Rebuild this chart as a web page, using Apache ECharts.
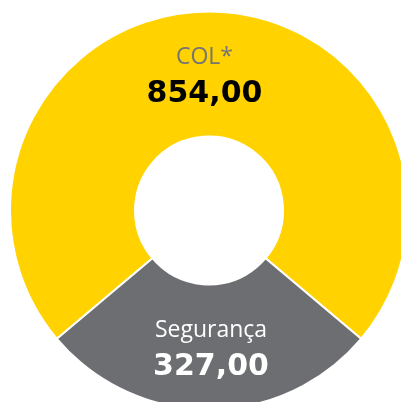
<!DOCTYPE html>
<html>
<head>
<meta charset="utf-8">
<script src="https://cdn.jsdelivr.net/npm/echarts@6/dist/echarts.min.js"></script>
<style>html,body{margin:0;padding:0;background:#fff}#c{width:401px;height:402px}</style>
</head>
<body>
<div id="c"></div>
<script>
var categories = ['COL*', 'Segurança'];
var values = [854, 327];
var valueLabels = ['854,00', '327,00'];
var colors = ['#FFD200', '#6D6E71'];

var chart = echarts.init(document.getElementById('c'), null, {renderer: 'canvas'});
var total = values[0] + values[1];
var startAngle = 90 + (values[0] / total) * 180;

var labelStyles = [
  {name: '#747474', value: '#000000', padding: [13, 9, 0, 0]},
  {name: '#FFFFFF', value: '#FFFFFF', padding: [0, 0, 0, 4]}
];

chart.setOption({
  animation: false,
  series: [{
    type: 'pie',
    center: [209, 210.5],
    radius: [74, 199],
    startAngle: startAngle,
    clockwise: true,
    itemStyle: {borderColor: '#FFFFFF', borderWidth: 2},
    emphasis: {disabled: true},
    labelLine: {show: false},
    data: categories.map(function (c, i) {
      return {
        name: c,
        value: values[i],
        itemStyle: {color: colors[i]},
        label: {
          show: true,
          position: 'inside',
          padding: labelStyles[i].padding,
          formatter: '{n|' + c + '}\n{v|' + valueLabels[i] + '}',
          rich: {
            n: {fontFamily: 'Open Sans', fontSize: 23, color: labelStyles[i].name, lineHeight: 34, align: 'center'},
            v: {fontFamily: 'DejaVu Sans', fontSize: 30, fontWeight: 'bold', color: labelStyles[i].value, lineHeight: 40, align: 'center'}
          }
        }
      };
    })
  }]
});
</script>
</body>
</html>
